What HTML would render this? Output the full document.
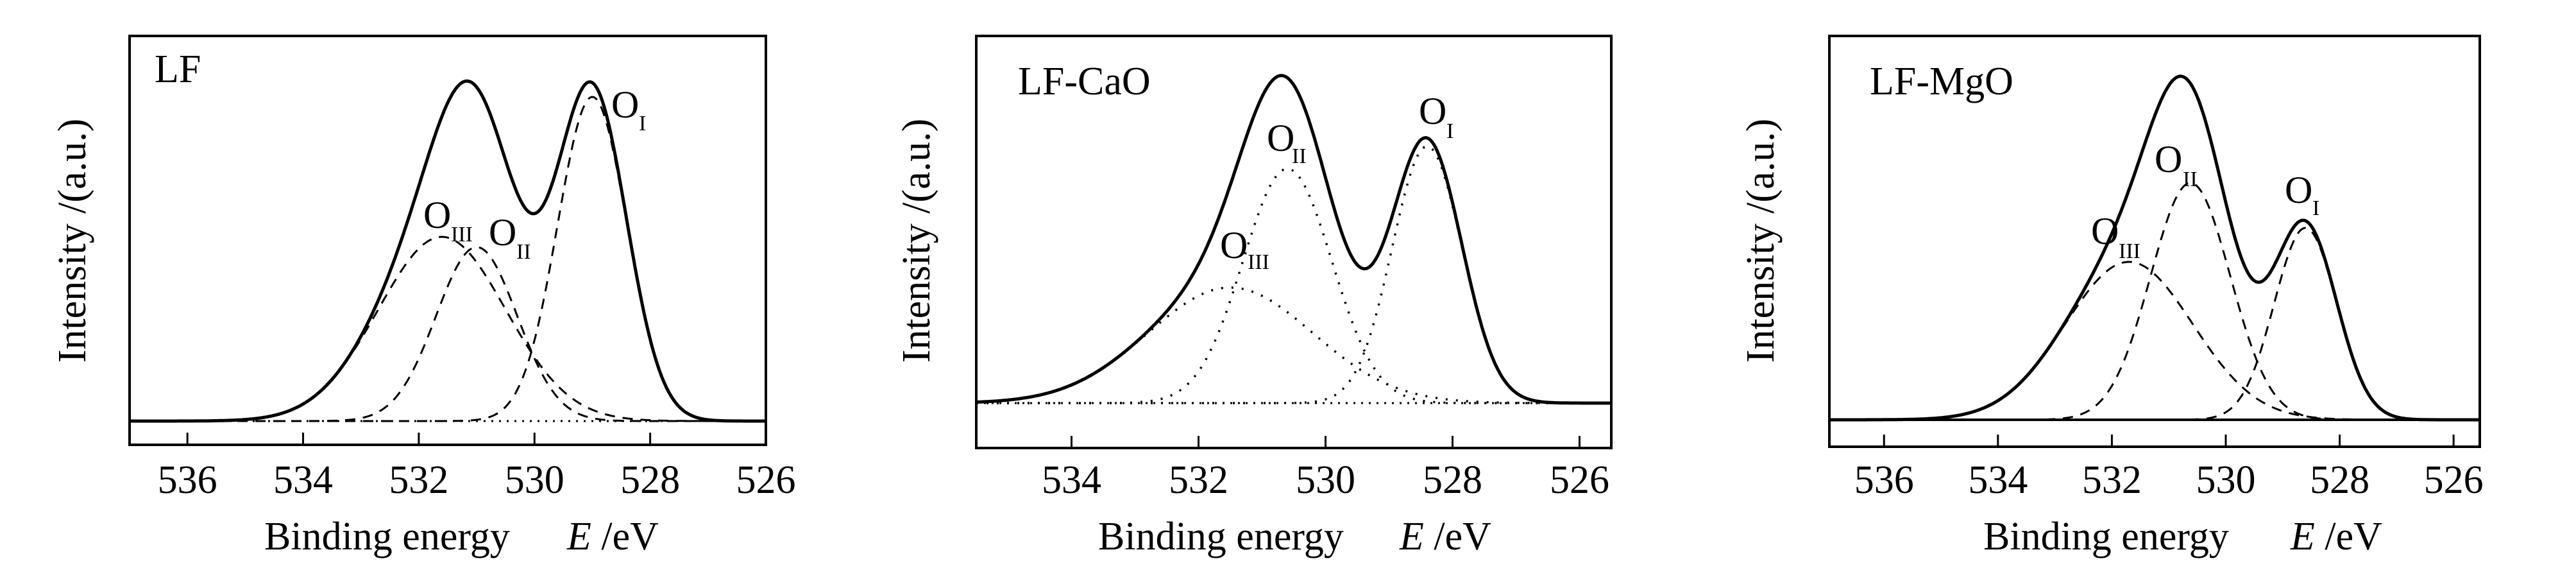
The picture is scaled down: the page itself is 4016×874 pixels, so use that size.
<!DOCTYPE html>
<html><head><meta charset="utf-8"><style>
html,body{margin:0;padding:0;background:#fff;}
svg{display:block;font-family:"Liberation Serif",serif;}
</style></head><body>
<svg id="fig" width="4016" height="874" viewBox="0 0 4016 874" xmlns="http://www.w3.org/2000/svg"></svg>
<script>
// ---- data ----
const lfCenters = [529.0, 531.0, 531.6];
const lfHeights = [505, 271, 287];
const lfWidths = [0.6, 0.7, 1.1];
const caoCenters = [528.4, 530.6, 531.5];
const caoHeights = [400, 365, 180];
const caoWidths = [0.55, 0.7, 1.3];
const mgoCenters = [528.6, 530.62, 531.7];
const mgoHeights = [299, 369, 246];
const mgoWidths = [0.55, 0.7, 1.12];
const componentNames = ["o-i", "o-ii", "o-iii"];
const lfTicks = [536, 534, 532, 530, 528, 526];
const caoTicks = [534, 532, 530, 528, 526];
const mgoTicks = [536, 534, 532, 530, 528, 526];

const NS = "http://www.w3.org/2000/svg";
const svg = document.getElementById("fig");
function mk(tag, attrs, parent) {
  const e = document.createElementNS(NS, tag);
  for (const k in attrs) e.setAttribute(k, attrs[k]);
  (parent || svg).appendChild(e);
  return e;
}
function gauss(x, c, h, w) { return h * Math.exp(-((x - c) * (x - c)) / (2 * w * w)); }

const panels = [
  {id:"lf", title:"LF", L:202, R:1194, T:56, B:693, xMax:537.0, xMin:526.0, yMin:-37, yMax:600,
   centers:lfCenters, heights:lfHeights, widths:lfWidths, ticks:lfTicks, comp:"dash", base:"dot",
   ylabX:133, titleX:241, titleY:128, xtX:412, eX:884,
   labels:[[953,183,996,203,"I"],[762,382,805,403,"II"],[660,355,703,376,"III"]]},
  {id:"cao", title:"LF-CaO", L:1522, R:2512, T:56, B:698, xMax:535.5, xMin:525.5, yMin:-70, yMax:572,
   centers:caoCenters, heights:caoHeights, widths:caoWidths, ticks:caoTicks, comp:"dot", base:"dot",
   ylabX:1449, titleX:1587, titleY:147, xtX:1712, eX:2182,
   labels:[[2212,193,2255,215,"I"],[1975,235,2014,254,"II"],[1902,402,1945,419,"III"]]},
  {id:"mgo", title:"LF-MgO", L:2852, R:3866, T:56, B:696, xMax:536.96, xMin:525.54, yMin:-42, yMax:598,
   centers:mgoCenters, heights:mgoHeights, widths:mgoWidths, ticks:mgoTicks, comp:"dash", base:"solid",
   ylabX:2765, titleX:2915, titleY:147, xtX:3092, eX:3571,
   labels:[[3562,316,3605,335,"I"],[3359,268,3403,290,"II"],[3260,380,3303,402,"III"]]}
];

panels.forEach(p => {
  const g = mk("g", {});
  
  
  const xs = v => p.L + (p.xMax - v) / (p.xMax - p.xMin) * (p.R - p.L);
  const ys = v => p.B - (v - p.yMin) / (p.yMax - p.yMin) * (p.B - p.T);
  const N = 500;
  // baseline
  const bl = mk("line", {x1:p.L, x2:p.R, y1:ys(0), y2:ys(0), stroke:"#000",
    "stroke-width": p.base === "solid" ? 4 : 3, "stroke-dasharray": p.base === "dot" ? "3 9" : "none"}, g);
  
  
  // components
  for (let i = 0; i < p.centers.length; i++) {
    let d = "";
    for (let k = 0; k <= N; k++) {
      const x = p.xMax - (p.xMax - p.xMin) * k / N;
      const v = gauss(x, p.centers[i], p.heights[i], p.widths[i]);
      d += (k ? "L" : "M") + xs(x).toFixed(1) + "," + ys(v).toFixed(1);
    }
    const pth = mk("path", {d:d, fill:"none", stroke:"#000",
      "stroke-width": p.comp === "dot" ? 3.5 : 3, "stroke-dasharray": p.comp === "dot" ? "3 13" : "16 12"}, g);
    
    
  }
  // envelope
  let d = "";
  for (let k = 0; k <= N; k++) {
    const x = p.xMax - (p.xMax - p.xMin) * k / N;
    let v = 0;
    for (let i = 0; i < p.centers.length; i++) v += gauss(x, p.centers[i], p.heights[i], p.widths[i]);
    d += (k ? "L" : "M") + xs(x).toFixed(1) + "," + ys(v).toFixed(1);
  }
  const env = mk("path", {d:d, fill:"none", stroke:"#000", "stroke-width":5, "stroke-linejoin":"round"}, g);
  
  
  // frame
  const fr = mk("rect", {x:p.L, y:p.T, width:p.R - p.L, height:p.B - p.T, fill:"none", stroke:"#000", "stroke-width":4}, g);
  
  
  // ticks
  p.ticks.forEach(t => {
    const tk = mk("line", {x1:xs(t), x2:xs(t), y1:p.B, y2:p.B - 19, stroke:"#000", "stroke-width":3}, g);
    
    
    const tl = mk("text", {x:xs(t), y:768, "text-anchor":"middle", "font-size":62}, g);
    tl.textContent = t;
    
    
  });
  // title
  const tt = mk("text", {x:p.titleX, y:p.titleY, "font-size":62}, g);
  tt.textContent = p.title;
  
  
  // y label
  const yl = mk("text", {x:0, y:0, "font-size":62, "text-anchor":"middle",
    transform:"translate(" + p.ylabX + ",375) rotate(-90)"}, g);
  yl.textContent = "Intensity /(a.u.)";
  
  
  // x title
  const xt = mk("text", {x:p.xtX, y:856, "font-size":62}, g);
  xt.textContent = "Binding energy";
  
  
  const et = mk("text", {x:p.eX, y:856, "font-size":62}, g);
  et.innerHTML = '<tspan font-style="italic">E</tspan> /eV';
  
  
  // peak labels
  p.labels.forEach(l => {
    const o = mk("text", {x:l[0], y:l[1], "font-size":60}, g);
    o.textContent = "O";
    
    
    const s = mk("text", {x:l[2], y:l[3], "font-size":34}, g);
    s.textContent = l[4];
    
    
  });
});
</script>
</body></html>
